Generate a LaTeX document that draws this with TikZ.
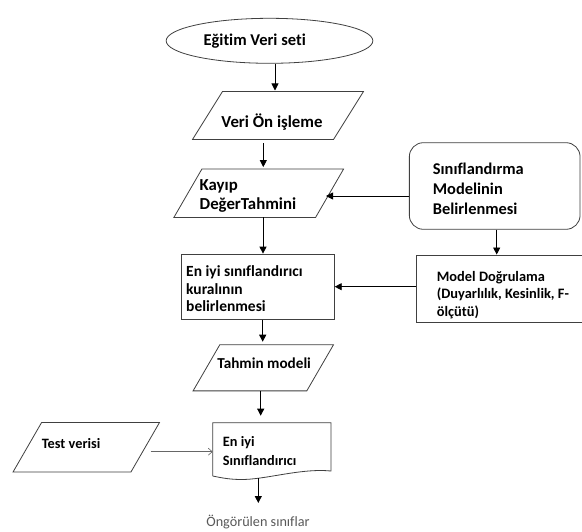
\documentclass[tikz,border=0pt]{standalone}
\usepackage{fontspec}
\setmainfont{Carlito}[Ligatures={NoCommon}]
\setlength{\parindent}{0pt}
\usetikzlibrary{shapes.geometric,arrows.meta}
\newcommand{\txtlines}[1]{\begin{tabular}{@{}l@{}}#1\end{tabular}}
\tikzset{
  shp/.style={draw=black!75, line width=0.8pt, inner sep=0pt},
  box/.style={inner sep=0pt, rectangle},
  txt/.style={font=\bfseries\fontsize{16.5}{19.5}\selectfont, inner sep=0pt},
  arr/.style={line width=0.9pt, -{Triangle[length=7pt,width=7pt]}},
  thinarr/.style={draw=black!60, line width=0.6pt, -{Straight Barb[length=4pt,width=7pt]}}
}
\newcommand{\parashape}[2]{\draw[draw=black!75, line width=0.8pt] (#1.south west) -- ([xshift=#2]#1.north west) -- (#1.north east) -- ([xshift=-#2]#1.south east) -- cycle;}
\begin{document}
\begin{tikzpicture}[x=1pt,y=-1pt]
\useasboundingbox (0,0) rectangle (582,532);
\clip (0,0) rectangle (582,532);
\fill[white] (0,0) rectangle (582,532);
% shapes
\node[shp, ellipse, minimum width=206.7pt, minimum height=45pt] (ell) at (269.5,40.8) {};
\node[box, minimum width=170.6pt, minimum height=47.6pt] (p1) at (278,115.5) {};
\parashape{p1}{30pt}
\node[box, minimum width=169.3pt, minimum height=48pt] (p2) at (258.7,193.3) {};
\parashape{p2}{28pt}
\node[shp, rectangle, rounded corners=14pt, minimum width=170.7pt, minimum height=86.6pt] (rb) at (494.7,186) {};
\node[shp, rectangle, minimum width=183.3pt, minimum height=67.7pt] (mb) at (508.3,288.8) {};
\node[shp, rectangle, minimum width=152.6pt, minimum height=65.3pt] (eb) at (258,286.7) {};
\node[box, minimum width=140pt, minimum height=45.7pt] (p3) at (263.3,367.8) {};
\parashape{p3}{26.7pt}
\node[box, minimum width=146pt, minimum height=49pt] (p4) at (86.3,447.2) {};
\parashape{p4}{28.5pt}
% document shape
\coordinate (docn) at (260.7,422.7);
\coordinate (docw) at (212.7,451.7);
\coordinate (docs) at (258.3,478);
\draw[draw=black!75, line width=0.8pt] (212.7,476) -- (212.7,422.7) -- (331,422.7) -- (331,471)
  .. controls (300,468) and (265,480) .. (240,479.5) .. controls (228,479.3) and (220,477.5) .. (212.7,476);
% texts
\node[txt, anchor=center] (t0) at (254.7,41.2) {Eğitim Veri seti};
\node[txt, anchor=center, font=\bfseries\fontsize{16.8}{19.5}\selectfont] (t1) at (272,122.5) {Veri Ön işleme};
\node[txt, anchor=west, font=\bfseries\fontsize{16.8}{19.3}\selectfont] (t2) at (199.5,196.3) {\txtlines{Kayıp\\DeğerTahmini}};
\node[txt, anchor=west, font=\bfseries\fontsize{16.4}{19.7}\selectfont] (t3) at (432.7,190.5) {\txtlines{Sınıflandırma\\Modelinin\\Belirlenmesi}};
\node[txt, anchor=west, font=\bfseries\fontsize{14.4}{17.2}\selectfont] (t4) at (436.7,295.5) {\txtlines{Model Doğrulama\\(Duyarlılık, Kesinlik, F-\\ölçütü)}};
\node[txt, anchor=west, font=\bfseries\fontsize{15.5}{17.5}\selectfont] (t5) at (186,290.8) {\txtlines{En iyi sınıflandırıcı\\kuralının\\belirlenmesi}};
\node[txt, anchor=center, font=\bfseries\fontsize{15.2}{18}\selectfont] (t6) at (264.2,363.3) {Tahmin modeli};
\node[txt, anchor=west, font=\bfseries\fontsize{14.3}{17}\selectfont] (t7) at (41.7,443.3) {Test verisi};
\node[txt, anchor=west, font=\bfseries\fontsize{14.3}{18.4}\selectfont] (t8) at (222.7,452.5) {\txtlines{En iyi\\Sınıflandırıcı}};
\node[font=\fontsize{14.2}{16}\selectfont, text=black!65, inner sep=0pt] (t9) at (258,522) {Öngörülen sınıflar};
% connectors
\draw[arr] (ell.south -| 275,0) coordinate (a0) -- ([yshift=1pt]a0 |- p1.north);
\draw[arr] ([yshift=-4pt]p1.south -| 263.3,0) coordinate (a1) -- ([yshift=2pt]a1 |- p2.north);
\draw[arr] (p2.south -| 263,0) coordinate (a2) -- (a2 |- eb.north);
\draw[arr] (rb.west |- 0,196) coordinate (a3) -- (326,196);
\draw[arr] (rb.south -| 496.7,0) coordinate (a4) -- (a4 |- mb.north);
\draw[arr] (mb.west |- 0,286.7) coordinate (a5) -- (eb.east |- a5);
\draw[arr] (eb.south -| 262.7,0) coordinate (a6) -- ([yshift=3pt]a6 |- p3.north);
\draw[arr] (p3.south -| 260.7,0) coordinate (a7) -- ([yshift=7pt]a7 |- docn);
\draw[thinarr] (p4.east |- docw) ++(-9pt,0) coordinate (a8) -- (docw);
\draw[arr] (docs) -- (258.3,503);
\end{tikzpicture}
\end{document}
